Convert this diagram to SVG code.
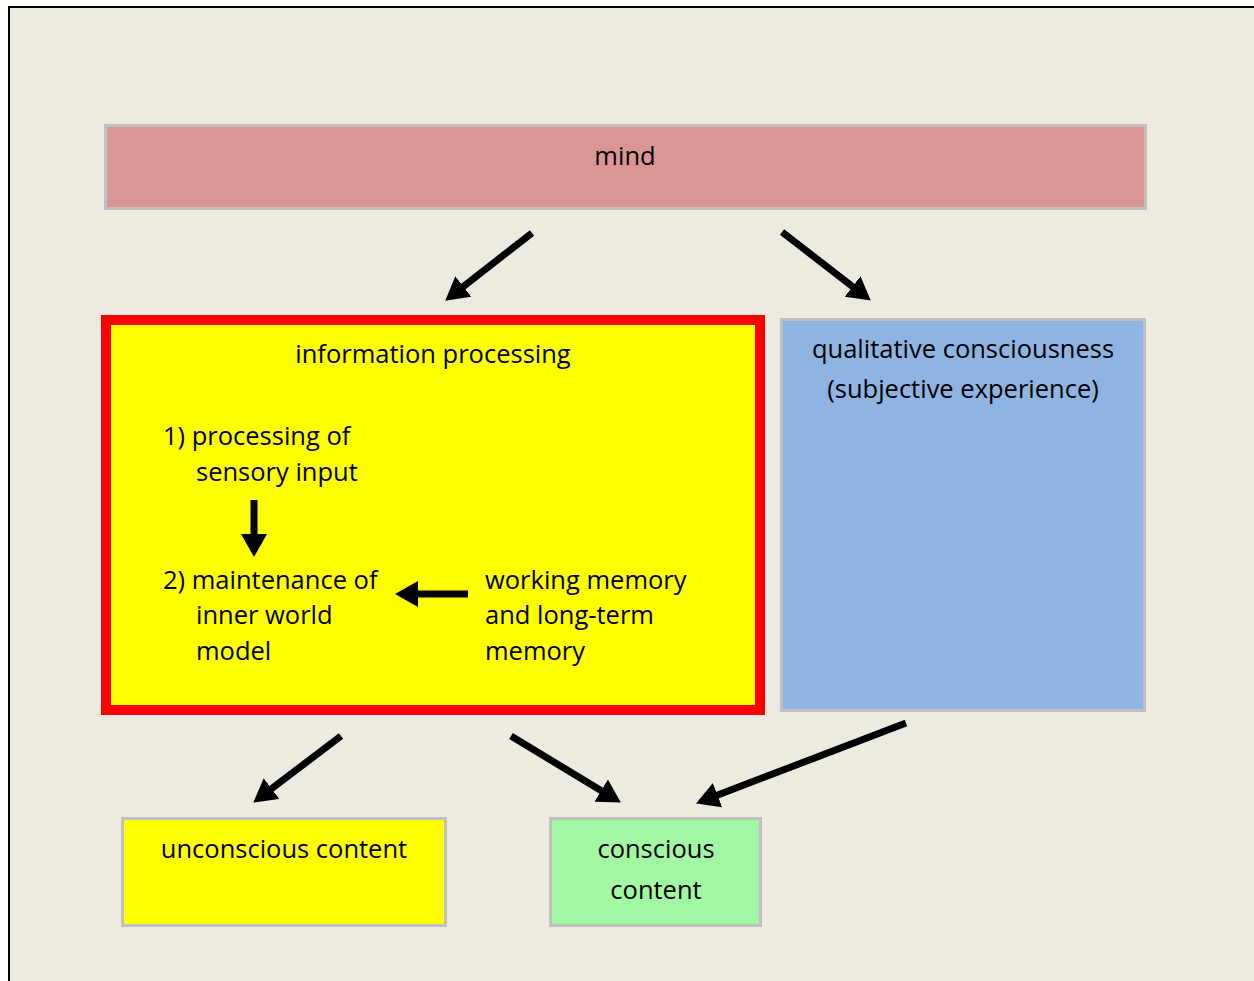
<svg xmlns="http://www.w3.org/2000/svg" width="1254" height="981" viewBox="0 0 1254 981">
<style>
.t{font-family:"Open Sans","Liberation Sans",sans-serif;font-size:25.5px;fill:#000}
.c{text-anchor:middle}
.box{stroke:#c0c0c0;stroke-width:3}
.arr{stroke:#000;stroke-width:7;fill:none;marker-end:url(#ah)}
</style>
<defs>
<marker id="ah" markerUnits="userSpaceOnUse" markerWidth="24" markerHeight="26" refX="6" refY="13" orient="auto">
<path d="M0,0 L23,13 L0,26 z" fill="#000"/>
</marker>
</defs>
<rect x="0" y="0" width="1254" height="981" fill="#fff"/>
<rect x="9" y="7" width="1250" height="980" fill="#edeae0" stroke="#000" stroke-width="2"/>
<g id="mind">
<rect class="box" x="105.5" y="125.5" width="1040" height="83" fill="#d99694"/>
<text class="t c" x="625" y="165">mind</text>
</g>
<g id="info">
<rect x="106" y="320" width="654" height="390" fill="#ffff00" stroke="#ff0000" stroke-width="10"/>
<text class="t c" x="433" y="363">information processing</text>
<text class="t" x="163" y="445">1) processing of</text>
<text class="t" x="196" y="481">sensory input</text>
<text class="t" x="163" y="589">2) maintenance of</text>
<text class="t" x="196" y="624">inner world</text>
<text class="t" x="196" y="660">model</text>
<text class="t" x="485" y="589">working memory</text>
<text class="t" x="485" y="624">and long-term</text>
<text class="t" x="485" y="660">memory</text>
</g>
<g id="qual">
<rect class="box" x="781.5" y="319.5" width="363" height="391" fill="#8eb4e3"/>
<text class="t c" x="963" y="358">qualitative consciousness</text>
<text class="t c" x="963" y="398">(subjective experience)</text>
</g>
<g id="unconscious">
<rect class="box" x="122.5" y="818.5" width="323" height="107" fill="#ffff00"/>
<text class="t c" x="284" y="858">unconscious content</text>
</g>
<g id="conscious">
<rect class="box" x="550.5" y="818.5" width="210" height="107" fill="#a2f8a2"/>
<text class="t c" x="656" y="858">conscious</text>
<text class="t c" x="656" y="899">content</text>
</g>
<g id="connectors">
<line class="arr" x1="532" y1="233" x2="458.6" y2="290.2"/>
<line class="arr" x1="782" y1="232" x2="857.3" y2="290.2"/>
<line class="arr" x1="254" y1="500" x2="254" y2="540"/>
<line class="arr" x1="468" y1="594" x2="412" y2="594"/>
<line class="arr" x1="341" y1="736" x2="266.8" y2="792.3"/>
<line class="arr" x1="511" y1="736" x2="606.3" y2="793.7"/>
<line class="arr" x1="906" y1="723" x2="711.9" y2="797.3"/>
</g>
</svg>
